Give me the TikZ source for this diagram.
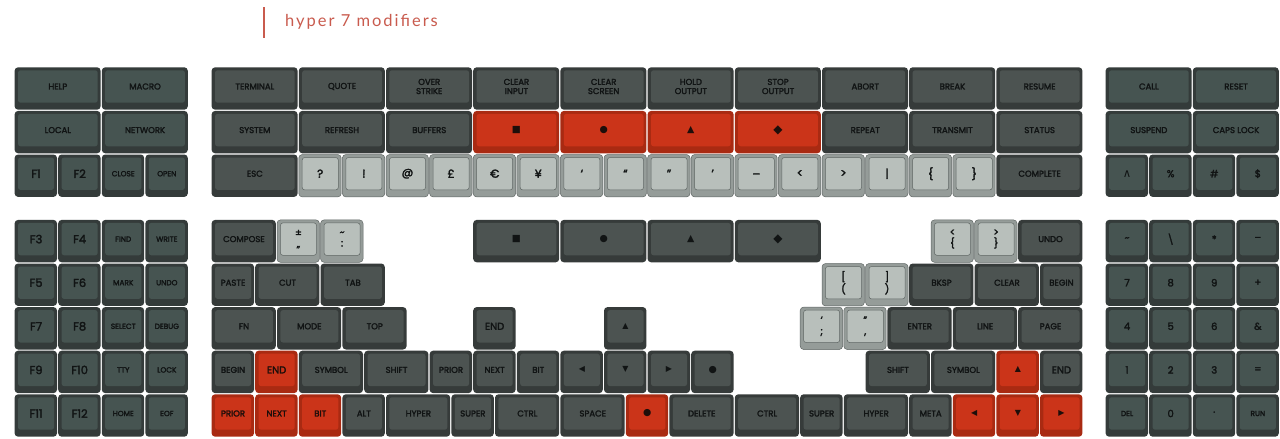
\documentclass[tikz,border=0pt]{standalone}
\usepackage{fontspec}
\setmainfont{Poppins}[FakeBold=2.5]
\newfontfamily\titlefont[LetterSpace=12]{Lato}
\newfontfamily\symfont{DejaVu Sans}
\usetikzlibrary{calc}
\definecolor{dkbase}{HTML}{363B3A}
\definecolor{dkface}{HTML}{4C5351}
\definecolor{gkbase}{HTML}{343B3A}
\definecolor{gkface}{HTML}{465451}
\definecolor{rdbase}{HTML}{A92A12}
\definecolor{rdface}{HTML}{CB3419}
\definecolor{ltbase}{HTML}{959C99}
\definecolor{ltface}{HTML}{B8BFBB}
\definecolor{ltline}{HTML}{5F6664}
\definecolor{keyink}{HTML}{111414}
\definecolor{rdink}{HTML}{1E0E0A}
\definecolor{titlered}{HTML}{C95B4E}
% one key: [look]{name}{column}{row}{width in units}{label}
\newcommand{\keycap}[6][dk]{%
  \node[keybase,#1,fill=\kb,minimum width={#5*\ku-1.2}] (#2)
    at ({\bx+(#3+#5/2)*\ku},{\by+(#4+0.5)*\ku}) {};
  \node[keyface,#1,fill=\kf,text=\kt,minimum width={#5*\ku-7.5}] (#2-top)
    at ([xshift=0.25pt,yshift=2pt]#2.center) {#6};}

\begin{document}
\begin{tikzpicture}[
  x=1pt,y=-1pt,
  dk/.code={\def\kb{dkbase}\def\kf{dkface}\def\kt{keyink}},
  gk/.code={\def\kb{gkbase}\def\kf{gkface}\def\kt{keyink}},
  rd/.code={\def\kb{rdbase}\def\kf{rdface}\def\kt{rdink}},
  lt/.code={\def\kb{ltbase}\def\kf{ltface}\def\kt{keyink}%
            \pgfkeysalso{draw=ltline,line width=0.5pt}},
  keybase/.style={dk,rounded corners=3.5pt,minimum height=42.4,inner sep=0pt},
  keyface/.style={dk,rounded corners=2.5pt,minimum height=32.4,inner sep=0pt,
                  align=center,font=\fontsize{8.5}{9.2}\selectfont},
  big/.style={font=\fontsize{11.5}{11.5}\selectfont},
  mid/.style={font=\fontsize{10}{10}\selectfont},
  tiny/.style={font=\fontsize{7.4}{8}\selectfont},
  pair/.style={font=\fontsize{10}{11}\selectfont},
  glyph/.style={font=\symfont\fontsize{9.5}{9.5}\selectfont},
  diag/.style={font=\symfont\fontsize{12}{12}\selectfont},
  arrowg/.style={font=\symfont\fontsize{8}{8}\selectfont}
]
\useasboundingbox[fill=white] (0,0) rectangle (1280,439);
\def\ku{43.6}

% title
\coordinate (barTop) at (264,7);
\coordinate (barBottom) at (264,38);
\draw[titlered,line width=1.4pt] (barTop) -- (barBottom);
\node[anchor=base west,inner sep=0pt,text=titlered,
      font=\titlefont\fontsize{16.5}{16.5}\selectfont] (title) at (285,27) {hyper 7 modifiers};

% ---- upper section ----
\def\by{66.7}
\def\bx{14}
\keycap[gk]{help}{0}{0}{2}{HELP}
\keycap[gk]{macro}{2}{0}{2}{MACRO}
\keycap[gk]{local}{0}{1}{2}{LOCAL}
\keycap[gk]{network}{2}{1}{2}{NETWORK}
\keycap[gk,big]{f1}{0}{2}{1}{F1}
\keycap[gk,big]{f2}{1}{2}{1}{F2}
\keycap[gk,tiny]{close}{2}{2}{1}{CLOSE}
\keycap[gk,tiny]{open}{3}{2}{1}{OPEN}

\def\bx{211}
\foreach \lbl [count=\i from 0] in {TERMINAL,QUOTE,{OVER\\STRIKE},{CLEAR\\INPUT},
    {CLEAR\\SCREEN},{HOLD\\OUTPUT},{STOP\\OUTPUT},ABORT,BREAK,RESUME}
  {\keycap{top\i}{2*\i}{0}{2}{\lbl}}
\keycap{system}{0}{1}{2}{SYSTEM}
\keycap{refresh}{2}{1}{2}{REFRESH}
\keycap{buffers}{4}{1}{2}{BUFFERS}
\keycap[rd,glyph]{redSq}{6}{1}{2}{■}
\keycap[rd,glyph]{redDot}{8}{1}{2}{●}
\keycap[rd,glyph]{redTri}{10}{1}{2}{▲}
\keycap[rd,diag]{redDia}{12}{1}{2}{◆}
\keycap{repeat}{14}{1}{2}{REPEAT}
\keycap{transmit}{16}{1}{2}{TRANSMIT}
\keycap{status}{18}{1}{2}{STATUS}
\keycap{esc}{0}{2}{2}{ESC}
\foreach \lbl [count=\i from 0] in {?,!,@,£,€,¥,‘,“,”,’,\_,<,>,|,\{,\}}
  {\keycap[lt,big]{sym\i}{2+\i}{2}{1}{\lbl}}
\keycap{complete}{18}{2}{2}{COMPLETE}

\def\bx{1105}
\keycap[gk]{call}{0}{0}{2}{CALL}
\keycap[gk]{reset}{2}{0}{2}{RESET}
\keycap[gk]{suspend}{0}{1}{2}{SUSPEND}
\keycap[gk]{capslock}{2}{1}{2}{CAPS LOCK}
\keycap[gk,big]{caret}{0}{2}{1}{{\symfont ∧}}
\keycap[gk,mid]{percent}{1}{2}{1}{\%}
\keycap[gk,mid]{hash}{2}{2}{1}{\#}
\keycap[gk,mid]{dollar}{3}{2}{1}{\$}

% ---- lower section ----
\def\by{219.3}
\def\bx{14}
\foreach \a/\b/\c/\d [count=\r from 0] in {F3/F4/FIND/WRITE,F5/F6/MARK/UNDO,
    F7/F8/SELECT/DEBUG,F9/F10/TTY/LOCK,F11/F12/HOME/EOF}{
  \keycap[gk,big]{fa\r}{0}{\r}{1}{\a}
  \keycap[gk,big]{fb\r}{1}{\r}{1}{\b}
  \keycap[gk,tiny]{fc\r}{2}{\r}{1}{\c}
  \keycap[gk,tiny]{fd\r}{3}{\r}{1}{\d}
}

\def\bx{211}
\keycap{compose}{0}{0}{1.5}{COMPOSE}
\keycap[lt,pair]{plusmin}{1.5}{0}{1}{±\\„}
\keycap[lt,pair]{tilde}{2.5}{0}{1}{\textasciitilde\\:}
\keycap[glyph]{sq}{6}{0}{2}{■}
\keycap[glyph]{dot}{8}{0}{2}{●}
\keycap[glyph]{tri}{10}{0}{2}{▲}
\keycap[diag]{dia}{12}{0}{2}{◆}
\keycap[lt,pair]{less}{16.5}{0}{1}{<\\\{}
\keycap[lt,pair]{more}{17.5}{0}{1}{>\\\}}
\keycap{undoR}{18.5}{0}{1.5}{UNDO}

\keycap{paste}{0}{1}{1}{PASTE}
\keycap{cut}{1}{1}{1.5}{CUT}
\keycap{tab}{2.5}{1}{1.5}{TAB}
\keycap[lt,pair]{brack}{14}{1}{1}{[\\(}
\keycap[lt,pair]{brackR}{15}{1}{1}{]\\)}
\keycap{bksp}{16}{1}{1.5}{BKSP}
\keycap{clear}{17.5}{1}{1.5}{CLEAR}
\keycap{beginR}{19}{1}{1}{BEGIN}

\keycap{fn}{0}{2}{1.5}{FN}
\keycap{mode}{1.5}{2}{1.5}{MODE}
\keycap{topK}{3}{2}{1.5}{TOP}
\keycap[dk,mid]{endMid}{6}{2}{1}{END}
\keycap[arrowg]{upMid}{9}{2}{1}{▲}
\keycap[lt,pair]{semi}{13.5}{2}{1}{`\\;}
\keycap[lt,pair]{quot}{14.5}{2}{1}{"\\,}
\keycap{enter}{15.5}{2}{1.5}{ENTER}
\keycap{line}{17}{2}{1.5}{LINE}
\keycap{page}{18.5}{2}{1.5}{PAGE}

\keycap{beginL}{0}{3}{1}{BEGIN}
\keycap[rd,mid]{endL}{1}{3}{1}{END}
\keycap{symbolL}{2}{3}{1.5}{SYMBOL}
\keycap{shiftL}{3.5}{3}{1.5}{SHIFT}
\keycap{priorM}{5}{3}{1}{PRIOR}
\keycap{nextM}{6}{3}{1}{NEXT}
\keycap{bitM}{7}{3}{1}{BIT}
\keycap[arrowg]{leftM}{8}{3}{1}{◀}
\keycap[arrowg]{downM}{9}{3}{1}{▼}
\keycap[arrowg]{rightM}{10}{3}{1}{▶}
\keycap[glyph]{dotM}{11}{3}{1}{●}
\keycap{shiftR}{15}{3}{1.5}{SHIFT}
\keycap{symbolR}{16.5}{3}{1.5}{SYMBOL}
\keycap[rd,arrowg]{upR}{18}{3}{1}{▲}
\keycap[dk,mid]{endR}{19}{3}{1}{END}

\keycap[rd]{priorL}{0}{4}{1}{PRIOR}
\keycap[rd]{nextL}{1}{4}{1}{NEXT}
\keycap[rd]{bitL}{2}{4}{1}{BIT}
\keycap{alt}{3}{4}{1}{ALT}
\keycap{hyperL}{4}{4}{1.5}{HYPER}
\keycap{superL}{5.5}{4}{1}{SUPER}
\keycap{ctrlL}{6.5}{4}{1.5}{CTRL}
\keycap{space}{8}{4}{1.5}{SPACE}
\keycap[rd,glyph]{dotR}{9.5}{4}{1}{●}
\keycap{delete}{10.5}{4}{1.5}{DELETE}
\keycap{ctrlR}{12}{4}{1.5}{CTRL}
\keycap{superR}{13.5}{4}{1}{SUPER}
\keycap{hyperR}{14.5}{4}{1.5}{HYPER}
\keycap{meta}{16}{4}{1}{META}
\keycap[rd,arrowg]{leftR}{17}{4}{1}{◀}
\keycap[rd,arrowg]{downR}{18}{4}{1}{▼}
\keycap[rd,arrowg]{rightR}{19}{4}{1}{▶}

\def\bx{1105}
\foreach \a/\b/\c/\d [count=\r from 0] in {{\textasciitilde}/{\textbackslash}/*/–,
    7/8/9/+,4/5/6/\&,1/2/3/=}{
  \keycap[gk,mid]{na\r}{0}{\r}{1}{\a}
  \keycap[gk,mid]{nb\r}{1}{\r}{1}{\b}
  \keycap[gk,mid]{nc\r}{2}{\r}{1}{\c}
  \keycap[gk,mid]{nd\r}{3}{\r}{1}{\d}
}
\keycap[gk,tiny]{del}{0}{4}{1}{DEL}
\keycap[gk,mid]{zero}{1}{4}{1}{0}
\keycap[gk,mid]{point}{2}{4}{1}{·}
\keycap[gk,tiny]{run}{3}{4}{1}{RUN}
\end{tikzpicture}
\end{document}
